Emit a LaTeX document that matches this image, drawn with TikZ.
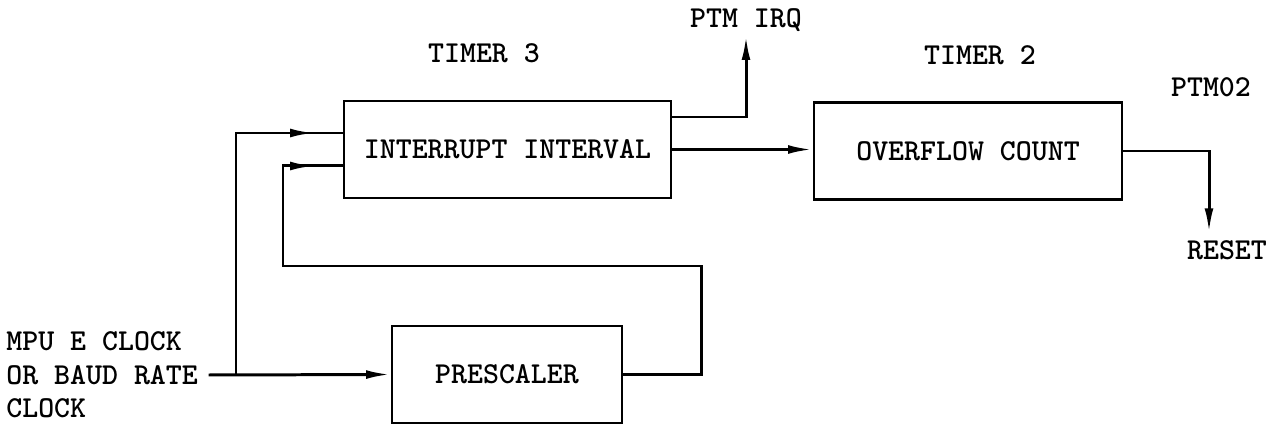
\documentclass[tikz,border=0pt]{standalone}
\usepackage{fontspec}
\usetikzlibrary{arrows.meta,decorations.markings}

\begin{document}
\begin{tikzpicture}[x=0.02cm,y=-0.02cm,
    font=\ttfamily\bfseries\fontsize{17.3}{19}\selectfont,
    block/.style={draw,line width=1.5pt,minimum height=1.94cm,inner sep=0pt},
    label/.style={inner sep=2pt},
    wire/.style={line width=1.7pt},
    tip/.style={-{Latex[length=14pt,width=5pt]}},
    midtip/.style={postaction={decorate},decoration={markings,
        mark=at position -0.56cm with {\arrow{Latex[length=14pt,width=5pt]}}}}]

\useasboundingbox (0,0) rectangle (1275,428);

\node[block,minimum width=6.54cm] (intv) at (507.5,149.5) {INTERRUPT INTERVAL};
\node[block,minimum width=6.16cm] (ovf) at (968,151) {OVERFLOW COUNT};
\node[block,minimum width=4.6cm] (pre) at (507,374.5) {PRESCALER};

\node[label] (t3) at (484,53) {TIMER 3};
\node[label] (t2) at (980,55) {TIMER 2};
\node[label] (irq) at (746,20) {PTM IRQ};
\node[label] (ptm) at (1211,87) {PTM02};
\node[label] (reset) at (1227,250) {RESET};
\node[label,align=left,anchor=west,inner xsep=0pt] (clk) at (6,375) {MPU E CLOCK\\OR BAUD RATE\\CLOCK};

\coordinate (j) at (236,374.5);
\coordinate (fb) at (701,266);
\coordinate (fbl) at (283,266);
\coordinate (rst) at (1209,233);

\draw[wire,tip] ([xshift=6pt]clk.east) -- (pre.west);
\draw[wire,midtip] (j) |- ([yshift=0.33cm]intv.west);
\draw[wire,midtip] (pre.east) -| (fb) -- (fbl) |- ([yshift=-0.33cm]intv.west);
\draw[wire,tip] ([yshift=0.65cm]intv.east) -| (irq.south);
\draw[wire,tip] (intv.east) -- (intv.east -| ovf.west);
\draw[wire,tip] (ovf.east) -| (rst);
\end{tikzpicture}
\end{document}
